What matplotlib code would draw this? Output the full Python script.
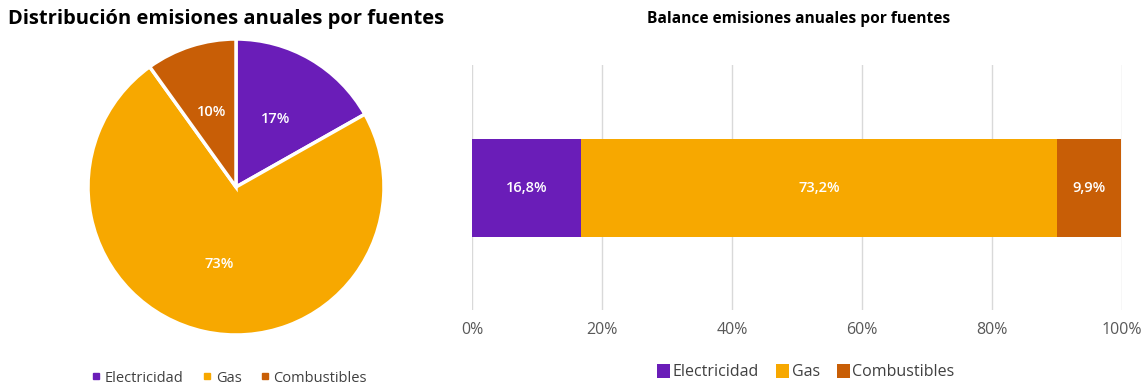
import matplotlib
matplotlib.use("Agg")
import matplotlib.pyplot as plt
import numpy as np
from matplotlib.lines import Line2D
from matplotlib.patches import Patch

categories = ["Electricidad", "Gas", "Combustibles"]
values = [16.8, 73.2, 9.9]
pie_labels = ["17%", "73%", "10%"]
bar_labels = ["16,8%", "73,2%", "9,9%"]
ticks = [0, 20, 40, 60, 80, 100]
tick_labels = ["0%", "20%", "40%", "60%", "80%", "100%"]
colors = ["#6A1DB8", "#F7A800", "#C85E06"]

plt.rcParams['font.family'] = ['Open Sans', 'DejaVu Sans']

W, H = 1147, 389
fig = plt.figure(figsize=(W/100, H/100), dpi=100)

def fr(x0, y0, x1, y1):
    return [x0/W, 1 - y1/H, (x1-x0)/W, (y1-y0)/H]

# Pie
axp = fig.add_axes(fr(88, 39, 384, 335))
wedges, texts = axp.pie(values, colors=colors, startangle=90, counterclock=False,
                        wedgeprops=dict(edgecolor='white', linewidth=2.5))
for w, lab in zip(wedges, pie_labels):
    ang = np.deg2rad((w.theta1 + w.theta2) / 2)
    axp.text(0.53*np.cos(ang), 0.53*np.sin(ang), lab, ha='center', va='center',
             color='white', fontsize=10.5, fontweight='semibold')
axp.set_xlim(-1, 1); axp.set_ylim(-1, 1)
axp.set_aspect('equal')
fig.text(8/W, 1-19/H, "Distribución emisiones anuales por fuentes", ha='left', va='center',
         fontsize=14.5, fontweight='bold', color='black')

handles = [Line2D([], [], marker='s', linestyle='none', markersize=4.5, color=c) for c in colors]
fig.legend(handles, categories, loc='center', bbox_to_anchor=(228/W, 1-378/H), ncol=3,
           frameon=False, fontsize=10.5, handletextpad=0.1, columnspacing=1.1,
           labelcolor='#404040', handlelength=1.0)

# Bar
axb = fig.add_axes(fr(472, 65, 1122, 310))
left = 0
for v, c, lab in zip(values, colors, bar_labels):
    axb.barh(0, v, left=left, height=0.4, color=c, zorder=2)
    axb.text(left + v/2, 0, lab, ha='center', va='center', color='white',
             fontsize=10.5, fontweight='semibold', zorder=3)
    left += v
axb.set_xlim(0, 100)
axb.set_ylim(-0.5, 0.5)
axb.set_xticks(ticks)
axb.set_xticklabels(tick_labels, color='#595959', fontsize=11.5)
axb.set_yticks([])
axb.tick_params(axis='x', length=0, pad=9)
axb.grid(axis='x', color='#D9D9D9', linewidth=1, zorder=0)
for s in axb.spines.values():
    s.set_visible(False)
fig.text(799/W, 1-19/H, "Balance emisiones anuales por fuentes", ha='center', va='center',
         fontsize=11.2, fontweight='bold', color='black')
bh = [Patch(facecolor=c) for c in colors]
fig.legend(bh, categories, loc='center', bbox_to_anchor=(806/W, 1-372/H), ncol=3,
           frameon=False, fontsize=11.5, handletextpad=0.15, columnspacing=1.1,
           labelcolor='#404040', handlelength=0.8, handleheight=1.0)

fig.savefig("out.png", dpi=100)
